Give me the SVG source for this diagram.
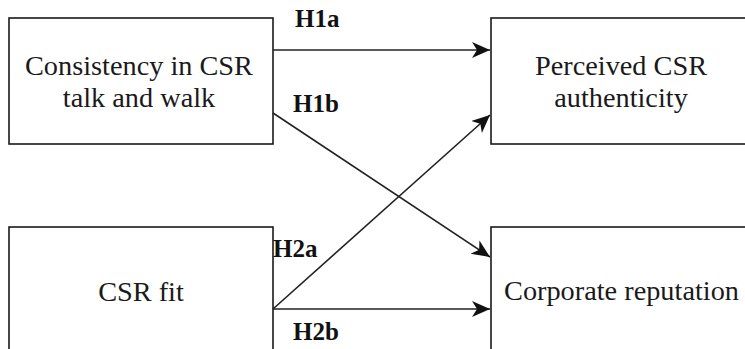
<svg xmlns="http://www.w3.org/2000/svg" width="745" height="349" viewBox="0 0 745 349">
<style>
.box{fill:#fff;stroke:#1a1a1a;stroke-width:1.6}
.t{font-family:"Liberation Serif","Times New Roman",serif;font-size:28.3px;fill:#1a1a1a;text-anchor:middle}
.l{font-family:"Liberation Serif","Times New Roman",serif;font-size:25px;font-weight:bold;fill:#111}
.c{stroke:#222;stroke-width:1.6;fill:none;marker-end:url(#ah)}
</style>
<defs>
<marker id="ah" markerUnits="userSpaceOnUse" markerWidth="20" markerHeight="18" refX="18" refY="8" orient="auto">
<path d="M0,0 L18,8 L0,16 L5,8 Z" fill="#111"/>
</marker>
</defs>
<rect width="745" height="349" fill="#fff"/>
<g id="n1"><rect class="box" x="9" y="18" width="264" height="126"/><text class="t" x="139" y="75">Consistency in CSR</text><text class="t" x="139" y="107">talk and walk</text></g>
<g id="n2"><rect class="box" x="491" y="18" width="264" height="126"/><text class="t" x="621" y="75">Perceived CSR</text><text class="t" x="621" y="107">authenticity</text></g>
<g id="n3"><rect class="box" x="9" y="227" width="264" height="126"/><text class="t" x="141" y="301">CSR fit</text></g>
<g id="n4"><rect class="box" x="491" y="227" width="264" height="126"/><text class="t" x="621.5" y="300">Corporate reputation</text></g>
<g id="connectors">
<line class="c" x1="273" y1="50" x2="490" y2="50"/>
<line class="c" x1="273" y1="113" x2="490" y2="257"/>
<line class="c" x1="273" y1="309" x2="490" y2="115"/>
<line class="c" x1="273" y1="309" x2="490" y2="309"/>
<text class="l" x="295" y="27">H1a</text>
<text class="l" x="293" y="112">H1b</text>
<text class="l" x="273" y="257">H2a</text>
<text class="l" x="293" y="340">H2b</text>
</g>
</svg>
